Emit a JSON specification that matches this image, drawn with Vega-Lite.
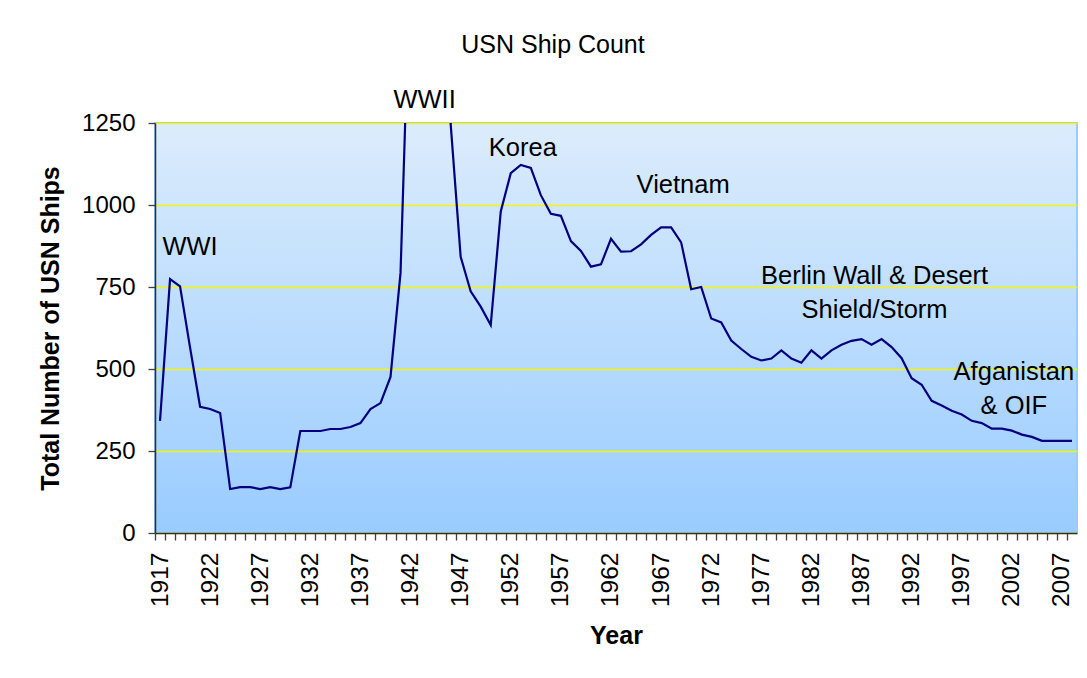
{
  "$schema": "https://vega.github.io/schema/vega-lite/v6.json",
  "autosize": {"type": "none"},
  "width": 922,
  "height": 410,
  "padding": {"left": 155, "top": 123, "right": 10, "bottom": 145},
  "background": "white",
  "title": {"text": "USN Ship Count", "fontSize": 25, "fontWeight": "normal", "color": "black", "anchor": "middle", "offset": 30, "dx": -63},
  "config": {
    "font": "Liberation Sans",
    "view": {
      "stroke": "#9ccafc",
      "strokeWidth": 2,
      "fill": {"gradient": "linear", "x1": 0, "y1": 0, "x2": 0, "y2": 1, "stops": [{"offset": 0, "color": "#dcecfc"}, {"offset": 1, "color": "#99ccff"}]}
    }
  },
  "layer": [
    {
      "data": {"values": [
        {"year": 1917, "ships": 342}, {"year": 1918, "ships": 774}, {"year": 1919, "ships": 752}, {"year": 1920, "ships": 565},
        {"year": 1921, "ships": 385}, {"year": 1922, "ships": 378}, {"year": 1923, "ships": 366}, {"year": 1924, "ships": 134},
        {"year": 1925, "ships": 140}, {"year": 1926, "ships": 140}, {"year": 1927, "ships": 134}, {"year": 1928, "ships": 140},
        {"year": 1929, "ships": 134}, {"year": 1930, "ships": 139}, {"year": 1931, "ships": 311}, {"year": 1932, "ships": 311},
        {"year": 1933, "ships": 311}, {"year": 1934, "ships": 317}, {"year": 1935, "ships": 317}, {"year": 1936, "ships": 323},
        {"year": 1937, "ships": 335}, {"year": 1938, "ships": 378}, {"year": 1939, "ships": 396}, {"year": 1940, "ships": 476},
        {"year": 1941, "ships": 793}, {"year": 1942, "ships": 1782}, {"year": 1943, "ships": 2935}, {"year": 1944, "ships": 6084},
        {"year": 1945, "ships": 6768}, {"year": 1946, "ships": 1248}, {"year": 1947, "ships": 842}, {"year": 1948, "ships": 737},
        {"year": 1949, "ships": 690}, {"year": 1950, "ships": 634}, {"year": 1951, "ships": 980}, {"year": 1952, "ships": 1097},
        {"year": 1953, "ships": 1122}, {"year": 1954, "ships": 1113}, {"year": 1955, "ships": 1030}, {"year": 1956, "ships": 973},
        {"year": 1957, "ships": 967}, {"year": 1958, "ships": 890}, {"year": 1959, "ships": 860}, {"year": 1960, "ships": 812},
        {"year": 1961, "ships": 819}, {"year": 1962, "ships": 897}, {"year": 1963, "ships": 858}, {"year": 1964, "ships": 859},
        {"year": 1965, "ships": 880}, {"year": 1966, "ships": 909}, {"year": 1967, "ships": 932}, {"year": 1968, "ships": 932},
        {"year": 1969, "ships": 886}, {"year": 1970, "ships": 743}, {"year": 1971, "ships": 750}, {"year": 1972, "ships": 654},
        {"year": 1973, "ships": 642}, {"year": 1974, "ships": 587}, {"year": 1975, "ships": 561}, {"year": 1976, "ships": 537},
        {"year": 1977, "ships": 526}, {"year": 1978, "ships": 532}, {"year": 1979, "ships": 557}, {"year": 1980, "ships": 532},
        {"year": 1981, "ships": 519}, {"year": 1982, "ships": 557}, {"year": 1983, "ships": 532}, {"year": 1984, "ships": 557},
        {"year": 1985, "ships": 574}, {"year": 1986, "ships": 586}, {"year": 1987, "ships": 591}, {"year": 1988, "ships": 574},
        {"year": 1989, "ships": 591}, {"year": 1990, "ships": 567}, {"year": 1991, "ships": 533}, {"year": 1992, "ships": 472},
        {"year": 1993, "ships": 452}, {"year": 1994, "ships": 403}, {"year": 1995, "ships": 389}, {"year": 1996, "ships": 373},
        {"year": 1997, "ships": 361}, {"year": 1998, "ships": 342}, {"year": 1999, "ships": 335}, {"year": 2000, "ships": 318},
        {"year": 2001, "ships": 318}, {"year": 2002, "ships": 312}, {"year": 2003, "ships": 300}, {"year": 2004, "ships": 293},
        {"year": 2005, "ships": 281}, {"year": 2006, "ships": 281}, {"year": 2007, "ships": 281}, {"year": 2008, "ships": 281}
      ]},
      "mark": {"type": "line", "color": "#000080", "strokeWidth": 2.2, "clip": true},
      "encoding": {
        "x": {
          "field": "year", "type": "quantitative",
          "scale": {"domain": [1916.5, 2008.5], "nice": false, "zero": false},
          "axis": {
            "title": "Year", "titleFontSize": 25, "titleFontWeight": "bold", "titleColor": "black", "titlePadding": 17,
            "tickCount": 92, "tickMinStep": 1, "format": "d",
            "labelExpr": "datum.value % 5 == 2 ? datum.label : ''",
            "labelAngle": 270, "labelFontSize": 24.5, "labelColor": "black", "labelOverlap": false, "labelPadding": 12,
            "tickOffset": -5.01, "labelOffset": 5.01, "tickSize": 7, "tickColor": "#404040", "tickWidth": 1.3,
            "domainColor": "#303030", "domainWidth": 1.5, "grid": false
          }
        },
        "y": {
          "field": "ships", "type": "quantitative",
          "scale": {"domain": [0, 1250], "nice": false},
          "axis": {
            "title": "Total Number of USN Ships", "titleFontSize": 25, "titleFontWeight": "bold", "titleColor": "black", "titlePadding": 18,
            "values": [0, 250, 500, 750, 1000, 1250], "format": "d",
            "labelFontSize": 24, "labelColor": "black", "labelPadding": 13,
            "tickSize": 7, "tickColor": "#404040", "tickWidth": 1.3,
            "domainColor": "#303030", "domainWidth": 1.5,
            "grid": true, "gridColor": "#f5f500", "gridWidth": 1.3, "gridOpacity": 1
          }
        }
      }
    },
    {
      "data": {"values": [
        {"label": "WWI", "year": 1920.0, "ships": 873},
        {"label": "WWII", "year": 1943.4, "ships": 1321},
        {"label": "Korea", "year": 1953.2, "ships": 1175},
        {"label": "Vietnam", "year": 1969.2, "ships": 1060},
        {"label": "Berlin Wall & Desert|Shield/Storm", "year": 1988.3, "ships": 785},
        {"label": "Afganistan|& OIF", "year": 2002.2, "ships": 492}
      ]},
      "mark": {"type": "text", "fontSize": 25.5, "color": "black", "align": "center", "baseline": "middle", "lineBreak": "|", "lineHeight": 34},
      "encoding": {
        "x": {"field": "year", "type": "quantitative"},
        "y": {"field": "ships", "type": "quantitative"},
        "text": {"field": "label"}
      }
    }
  ]
}
